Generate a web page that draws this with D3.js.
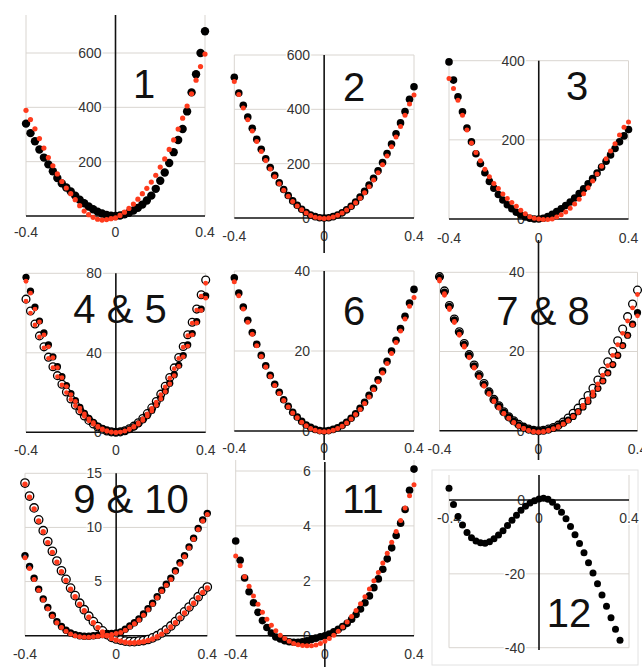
<!DOCTYPE html>
<html lang="en">
<head>
<meta charset="utf-8">
<style type="text/css">
    body { margin: 0; background: #fff; }
    svg { display: block; font-family: "Liberation Sans", Arial, sans-serif; }
    .grid { stroke: #d9d5d0; stroke-width: 1; }
    .axis { stroke: #111; stroke-width: 1.6; }
    .tick { font-size: 14px; fill: #333; paint-order: stroke; stroke: #fff; stroke-width: 3px; }
    .title { font-size: 40px; fill: #111; }
</style>
</head>
<body>
<svg width="642" height="667"></svg>
<script src="https://cdn.jsdelivr.net/npm/d3@7"></script>
<script type="text/javascript">

// shared x values (step 0.02)
var xs = [-0.40,-0.38,-0.36,-0.34,-0.32,-0.30,-0.28,-0.26,-0.24,-0.22,
          -0.20,-0.18,-0.16,-0.14,-0.12,-0.10,-0.08,-0.06,-0.04,-0.02,
           0,
           0.02,0.04,0.06,0.08,0.10,0.12,0.14,0.16,0.18,0.20,
           0.22,0.24,0.26,0.28,0.30,0.32,0.34,0.36,0.38,0.40];
var xs12 = xs.slice(0, 39);

var xTickValues = [-0.4, 0, 0.4];
var xTickLabels = ["-0.4", "0", "0.4"];

var panelNames = ["1", "2", "3", "4 & 5", "6", "7 & 8", "9 & 10", "11", "12"];

// panel 1
var p1Black = [340,305,275,245,215,190,165,140,120,105, 90,75,60,47,35,25,16,9,4,1, 0,
               2,6,12,20,30,42,57,75,100,130, 160,195,235,280,320,385,455,522,600,680];
var p1Red   = [389,355,321,285,250,215,185,155,127,103, 82,60,38,18,5,-5,-12,-15,-13,-10, -7,
               2,14,28,44,62,82,102,125,150,180, 210,245,280,320,360,405,450,500,550,596];
// panel 2
var p2Black = [518,460,415,372,330,290,253,218,186,157, 130,105,83,63,47,32,20,11,5,1, 0,
               1,5,11,19,30,43,59,77,98,121, 146,174,204,237,272,310,350,392,437,483];
var p2Red   = [502,455,405,362,320,282,245,212,180,152, 126,102,80,61,44,30,18,9,3,0, -2,
               0,4,10,18,29,41,56,73,93,115, 140,167,196,228,262,298,337,378,420,453];
// panel 3
var p3Black = [397,351,309,271,230,195,165,140,117,95, 78,62,48,36,26,17,10,5,2,0, 0,
               2,6,12,19,26,34,43,53,64,76, 89,102,116,131,146,162,178,195,210,226];
var p3Red   = [355,330,300,262,225,192,168,147,126,107, 90,77,63,52,42,32,22,13,6,2, 0,
               -1,-1,0,5,11,18,27,38,50,64, 79,96,114,133,152,172,190,212,232,245];
// panels 4 & 5
var p45Filled = [78,71,63,56,50,44,38,33,28,23.5, 19.5,16,12.5,9.5,7,5,3,1.8,0.8,0.2, 0,
                 0.2,0.7,1.5,2.7,4.3,6.2,8.4,11,14,17.2, 20.8,24.7,29,33.7,38.6,44,49.7,55.7,62,68.6];
var p45Hollow = [67,61,54.5,48.5,43,37.8,33,28.5,24.2,20.3, 16.8,13.6,10.8,8.2,6,4.2,2.7,1.5,0.7,0.2, 0,
                 0.2,0.8,1.8,3.1,4.8,6.9,9.4,12.3,15.5,19.2, 23.2,27.6,32.4,37.6,43.2,49.1,55.4,62,69.2,76.6];
var p45RedA   = [76,70,62,55.5,49,43,37.5,32.5,27.5,23, 19,15.5,12.2,9.2,6.8,4.8,3,1.7,0.8,0.2, -0.1,
                 0.1,0.6,1.4,2.6,4.1,6,8.2,10.7,13.6,16.8, 20.4,24.3,28.5,33.2,38,43.4,49,55,61.3,67.5];
var p45RedB   = [66,60,54,48,42.5,37.2,32.5,28,23.8,20, 16.5,13.3,10.5,8,5.8,4,2.5,1.3,0.5,0, -0.2,
                 0.1,0.7,1.7,3,4.7,6.7,9.2,12,15.2,18.9, 22.9,27.2,32,37.2,42.8,48.6,54.9,61.5,68.5,75];
// panel 6
var p6Black = [38.3,34.5,31,27.7,24.6,21.7,18.9,16.3,13.9,11.7, 9.7,7.8,6.2,4.7,3.5,2.4,1.5,0.9,0.4,0.1, 0,
               0.1,0.4,0.8,1.4,2.2,3.2,4.3,5.7,7.2,8.9, 10.7,12.8,15,17.4,20,22.7,25.6,28.7,32,35.4];
var p6Red   = [37.3,33.8,30.5,27.2,24.2,21.3,18.6,16,13.6,11.4, 9.4,7.6,6,4.5,3.3,2.2,1.3,0.6,0.2,-0.1, -0.2,
               -0.1,0.2,0.6,1.2,2,3,4.1,5.4,6.9,8.5, 10.3,12.3,14.5,16.9,19.4,22.1,25,28,31.2,33.4];
// panels 7 & 8
var p78Filled = [38.7,35,31.4,28,24.8,21.8,19,16.4,14,11.7, 9.7,7.8,6.2,4.7,3.5,2.4,1.5,0.9,0.4,0.1, 0,
                 0.1,0.3,0.7,1.2,1.9,2.7,3.6,4.8,6,7.4, 9,10.7,12.6,14.6,16.7,19,21.5,24.1,26.9,29.8];
var p78Hollow = [38.9,35.3,31.6,28.2,25,22,19.2,16.6,14.1,11.9, 9.8,7.9,6.3,4.8,3.5,2.5,1.6,0.9,0.4,0.1, 0,
                 0.1,0.4,0.8,1.4,2.2,3.2,4.4,5.7,7.2,8.9, 10.7,12.8,15,17.4,20,22.7,25.7,28.8,32,35.5];
var p78RedA   = [38.2,34.6,31,27.6,24.4,21.4,18.6,16,13.6,11.4, 9.4,7.5,5.9,4.4,3.2,2.1,1.2,0.6,0.1,-0.2, -0.3,
                 -0.2,0.1,0.5,1,1.7,2.5,3.5,4.6,5.9,7.3, 8.9,10.6,12.5,14.5,16.7,19,21.4,24,26.7,29];
var p78RedB   = [37.8,34.2,30.6,27.3,24.1,21.1,18.4,15.8,13.4,11.2, 9.2,7.3,5.7,4.3,3.1,2,1.1,0.5,0,-0.3, -0.4,
                 -0.3,0,0.4,0.9,1.6,2.5,3.6,4.9,6.4,8, 9.8,11.8,14,16.4,19,21.7,24.6,27.7,31,34.4];
// panels 9 & 10
var p910Filled = [7.4,6.4,5.3,4.3,3.4,2.6,1.9,1.3,0.85,0.5, 0.25,0.1,0,-0.05,-0.05,0,0.05,0.1,0.15,0.2, 0.25,
                  0.35,0.6,0.9,1.2,1.55,2,2.5,3,3.6,4.2, 4.75,5.3,6,6.75,7.4,8.2,9,9.9,10.7,11.3];
var p910Hollow = [14.1,12.9,11.8,10.7,9.7,8.7,7.8,6.9,6,5.2, 4.4,3.7,3,2.4,1.8,1.3,0.85,0.45,0.1,-0.15, -0.3,
                  -0.4,-0.5,-0.55,-0.55,-0.5,-0.45,-0.35,-0.2,0,0.25, 0.55,0.9,1.3,1.75,2.2,2.65,3.1,3.6,4.1,4.5];
var p910RedA   = [7.2,6.2,5.2,4.2,3.3,2.5,1.8,1.2,0.75,0.4, 0.15,0,-0.1,-0.15,-0.15,-0.1,-0.05,0,0.05,0.1, 0.2,
                  0.3,0.5,0.8,1.1,1.45,1.9,2.4,2.9,3.5,4.1, 4.65,5.2,5.9,6.6,7.3,8.1,8.9,9.8,10.6,11.2];
var p910RedB   = [14,12.8,11.7,10.6,9.6,8.6,7.7,6.8,5.9,5.1, 4.3,3.6,2.9,2.3,1.7,1.2,0.75,0.35,0,-0.25, -0.4,
                  -0.5,-0.6,-0.65,-0.65,-0.6,-0.55,-0.45,-0.3,-0.1,0.15, 0.45,0.8,1.2,1.65,2.1,2.55,3,3.5,4,4.4];
// panel 11
var p11Black = [3.45,2.75,2.1,1.6,1.2,0.85,0.55,0.3,0.1,-0.05, -0.12,-0.18,-0.22,-0.24,-0.24,-0.22,-0.19,-0.14,-0.09,-0.04, 0,
                0.06,0.14,0.23,0.33,0.45,0.6,0.77,0.97,1.2,1.45, 1.75,2.07,2.42,2.8,3.2,3.65,4.1,4.6,5.3,6.07];
var p11Red   = [2.9,2.55,2.15,1.8,1.45,1.15,0.85,0.6,0.38,0.18, 0.02,-0.1,-0.2,-0.28,-0.33,-0.36,-0.37,-0.37,-0.34,-0.28, -0.2,
                -0.1,0.02,0.16,0.32,0.5,0.7,0.92,1.16,1.42,1.7, 2,2.3,2.65,3,3.4,3.8,4.2,4.65,5.1,5.5];
// panel 12
var p12Black = [3.2,-1.2,-4.5,-6.8,-8.8,-10.2,-11.1,-11.6,-11.7,-11.3, -10.5,-9.5,-8.3,-6.9,-5.5,-4.1,-2.8,-1.7,-0.8,-0.2, 0.3,
                0.5,0.2,-0.6,-1.8,-3.3,-5.1,-7.2,-9.4,-11.8,-14.3, -17,-19.8,-22.7,-25.7,-28.8,-31.9,-35,-38];

var RED = "#ff3b1d", BLACK = "#000", BLUE = "#3b8fd8";

// layout of each small screenshot
var panels = [
  {name: panelNames[0], xr: [26, 205], yd: [0, 600], yr: [216, 53], ticks: [200, 400, 600], top: 15, axisTop: 15, axisBot: 216, lab: 237, tx: 144, ty: 98,
   series: [{xs: xs, ys: p1Black, r: 4.2, fill: BLACK}, {xs: xs, ys: p1Red, r: 2.6, fill: RED}]},
  {name: panelNames[1], xr: [234.3, 414], yd: [0, 600], yr: [218, 55], ticks: [0, 200, 400, 600], top: 55, axisTop: 55, axisBot: 253, lab: 240.5, tx: 354, ty: 101,
   series: [{xs: xs, ys: p2Black, r: 3.8, fill: BLACK}, {xs: xs, ys: p2Red, r: 2.5, fill: RED}]},
  {name: panelNames[2], xr: [449, 628.5], yd: [0, 400], yr: [219, 60.7], ticks: [0, 200, 400], top: 60.7, axisTop: 60.7, axisBot: 219, lab: 242.5, tx: 577, ty: 100,
   series: [{xs: xs, ys: p3Black, r: 3.8, fill: BLACK}, {xs: xs, ys: p3Red, r: 2.5, fill: RED}]},
  {name: panelNames[3], xr: [26, 205.7], yd: [0, 80], yr: [432.3, 273.3], ticks: [0, 40, 80], top: 273.3, axisTop: 273.3, axisBot: 432.3, lab: 455, tx: 120, ty: 323,
   series: [{xs: xs, ys: p45Hollow, r: 3.9, hollow: true}, {xs: xs, ys: p45Filled, r: 3.6, fill: BLACK},
            {xs: xs, ys: p45RedA, r: 2.4, fill: RED}, {xs: xs, ys: p45RedB, r: 2.4, fill: RED}]},
  {name: panelNames[4], xr: [234.3, 414], yd: [0, 40], yr: [431, 271], ticks: [0, 20, 40], top: 271, axisTop: 271, axisBot: 460, lab: 453.3, tx: 354, ty: 325,
   series: [{xs: xs, ys: p6Black, r: 3.8, fill: BLACK}, {xs: xs, ys: p6Red, r: 2.5, fill: RED}]},
  {name: panelNames[5], xr: [439.5, 637.5], yd: [0, 40], yr: [430.7, 272.3], ticks: [0, 20, 40], top: 272.3, axisTop: 240, axisBot: 460, lab: 454, tx: 543, ty: 325,
   series: [{xs: xs, ys: p78Hollow, r: 3.9, hollow: true}, {xs: xs, ys: p78Filled, r: 3.6, fill: BLACK},
            {xs: xs, ys: p78RedA, r: 2.4, fill: RED}, {xs: xs, ys: p78RedB, r: 2.4, fill: RED}]},
  {name: panelNames[6], xr: [25, 207.3], yd: [0, 15], yr: [635.7, 473.3], ticks: [5, 10, 15], top: 473.3, axisTop: 473.3, axisBot: 635.7, lab: 659, tx: 131, ty: 513,
   series: [{xs: xs, ys: p910Hollow, r: 4.2, hollow: true}, {xs: xs, ys: p910Filled, r: 3.7, fill: BLACK},
            {xs: xs, ys: p910Filled, r: 1.2, fill: BLUE},
            {xs: xs, ys: p910RedA, r: 2.5, fill: RED}, {xs: xs, ys: p910RedB, r: 2.7, fill: RED}]},
  {name: panelNames[7], xr: [235.7, 414], yd: [0, 6], yr: [635.7, 471], ticks: [0, 2, 4, 6], top: 460, axisTop: 462, axisBot: 667, lab: 659, tx: 363, ty: 513,
   series: [{xs: xs, ys: p11Black, r: 3.8, fill: BLACK}, {xs: xs, ys: p11Red, r: 2.5, fill: RED}]},
  {name: panelNames[8], xr: [449, 629], yd: [0, -40], yr: [500, 647.7], ticks: [0, -20, -40], top: 475, bottomGrid: 647.7, axisTop: 475, axisBot: 650, lab: 523, tx: 569, ty: 627,
   series: [{xs: xs12, ys: p12Black, r: 3.5, fill: BLACK}]}
];

var svg = d3.select("svg");

// faint edge of the last screenshot
svg.append("rect").attr("x", 432).attr("y", 470).attr("width", 206).attr("height", 195)
    .attr("fill", "none").attr("stroke", "#e2e2e2");

panels.forEach(function (p) {
    var g = svg.append("g");
    var x = d3.scaleLinear().domain([-0.4, 0.4]).range(p.xr);
    var y = d3.scaleLinear().domain(p.yd).range(p.yr);
    var gridBottom = p.bottomGrid || y(0);

    // vertical gridlines at the plot edges
    g.selectAll(".vg").data([-0.4, 0.4]).enter().append("line")
        .attr("class", "grid")
        .attr("x1", function (d) { return x(d); }).attr("x2", function (d) { return x(d); })
        .attr("y1", p.top).attr("y2", gridBottom);

    // horizontal gridlines
    g.selectAll(".hg").data(p.ticks.filter(function (t) { return t !== 0; })).enter().append("line")
        .attr("class", "grid")
        .attr("x1", x(-0.4)).attr("x2", x(0.4))
        .attr("y1", function (d) { return y(d); }).attr("y2", function (d) { return y(d); });

    // y tick labels, right-aligned against the vertical axis
    g.selectAll(".yt").data(p.ticks).enter().append("text")
        .attr("class", "tick")
        .attr("x", x(0) - 14)
        .attr("y", function (d) { return y(d); })
        .attr("dy", "0.35em")
        .attr("text-anchor", "end")
        .text(function (d) { return String(d); });

    // x tick labels
    g.selectAll(".xt").data(xTickValues).enter().append("text")
        .attr("class", "tick")
        .attr("x", function (d) { return x(d); })
        .attr("y", p.lab)
        .attr("text-anchor", "middle")
        .text(function (d, i) { return xTickLabels[i]; });

    // axes through zero
    g.append("line").attr("class", "axis")
        .attr("x1", x(-0.4)).attr("x2", x(0.4)).attr("y1", y(0)).attr("y2", y(0));
    g.append("line").attr("class", "axis")
        .attr("x1", x(0)).attr("x2", x(0)).attr("y1", p.axisTop).attr("y2", p.axisBot);

    // big panel number
    g.append("text").attr("class", "title")
        .attr("x", p.tx).attr("y", p.ty)
        .attr("text-anchor", "middle")
        .text(p.name);

    // data points
    p.series.forEach(function (s) {
        g.append("g").selectAll("circle")
            .data(s.ys.map(function (v, i) { return [s.xs[i], v]; }))
            .enter().append("circle")
            .attr("cx", function (d) { return x(d[0]); })
            .attr("cy", function (d) { return y(d[1]); })
            .attr("r", s.r)
            .attr("fill", s.hollow ? "#fff" : s.fill)
            .attr("stroke", s.hollow ? "#000" : "none")
            .attr("stroke-width", s.hollow ? 1.3 : 0);
    });
});

</script>
</body>
</html>
